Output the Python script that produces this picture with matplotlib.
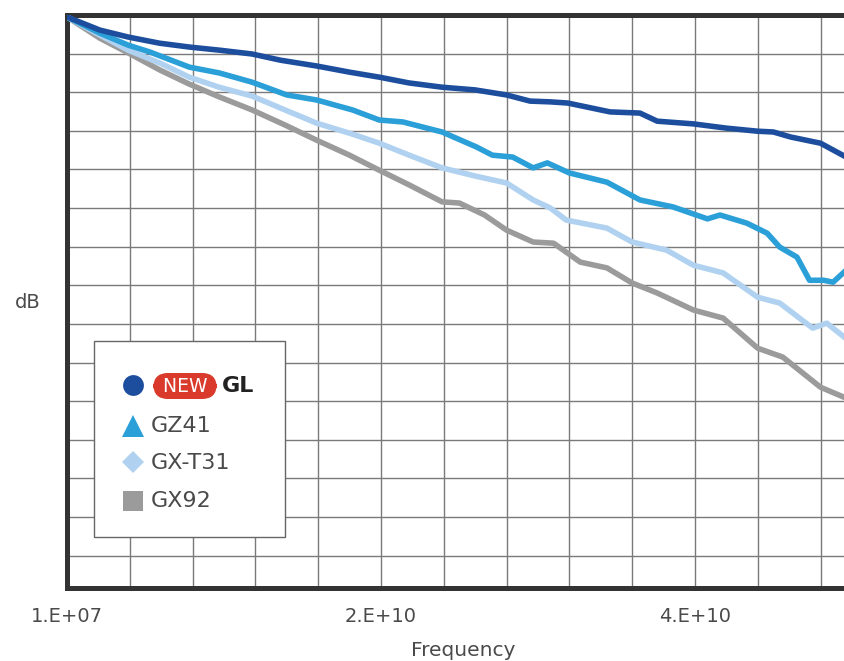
import matplotlib
matplotlib.use("Agg")
import matplotlib.pyplot as plt
import matplotlib.patches as pt
import numpy as np

plt.rcParams["font.family"] = "DejaVu Sans"

# frequency in GHz, loss in dB (1 grid row = 1 dB)
f_gl = [0.01, 2.1, 3.9, 5.9, 7.8, 9.7, 11.8, 13.6, 15.9, 18.0, 19.9, 21.8, 23.9, 26.0,
        28.0, 29.5, 30.8, 31.9, 34.6, 36.5, 37.6, 39.9, 42.0, 44.0, 45.0, 46.1, 48.0, 49.5]
db_gl = [-0.05, -0.39, -0.57, -0.73, -0.83, -0.91, -1.01, -1.17, -1.32, -1.48, -1.61, -1.76,
         -1.87, -1.94, -2.07, -2.23, -2.25, -2.28, -2.51, -2.54, -2.75, -2.82, -2.93, -3.01,
         -3.03, -3.16, -3.32, -3.65]

f_gz41 = [0.01, 2.1, 3.9, 5.3, 7.8, 9.7, 11.8, 14.0, 15.9, 18.2, 19.9, 21.4, 23.9, 26.1, 27.1,
          28.4, 29.7, 30.6, 32.0, 34.4, 36.5, 38.6, 40.8, 41.6, 43.3, 44.6, 45.4, 46.5, 47.3,
          48.2, 48.8, 49.5]
db_gz41 = [-0.05, -0.47, -0.78, -0.96, -1.35, -1.50, -1.74, -2.07, -2.20, -2.46, -2.72, -2.77,
           -3.03, -3.42, -3.63, -3.68, -3.96, -3.83, -4.09, -4.33, -4.79, -4.97, -5.28, -5.18,
           -5.39, -5.65, -6.01, -6.27, -6.87, -6.87, -6.92, -6.66]

f_gxt31 = [0.01, 2.1, 3.9, 5.9, 7.8, 9.7, 11.8, 13.9, 15.9, 18.0, 19.9, 21.8, 23.9, 26.0, 28.0,
           29.7, 30.8, 31.8, 34.4, 36.0, 38.2, 39.9, 41.8, 44.0, 45.4, 47.5, 48.4, 49.5]
db_gxt31 = [-0.05, -0.52, -0.91, -1.24, -1.61, -1.87, -2.10, -2.46, -2.80, -3.06, -3.32, -3.63,
            -3.96, -4.17, -4.35, -4.79, -5.00, -5.31, -5.52, -5.88, -6.09, -6.48, -6.68, -7.31,
            -7.46, -8.11, -7.98, -8.34]

f_gx92 = [0.01, 2.1, 3.9, 5.9, 7.8, 9.7, 11.8, 13.9, 15.9, 18.0, 19.9, 21.8, 23.9, 25.0, 26.6,
          28.0, 29.7, 31.0, 32.7, 34.4, 36.0, 37.6, 39.9, 41.8, 44.0, 45.6, 48.0, 49.5]
db_gx92 = [-0.05, -0.60, -0.98, -1.42, -1.79, -2.12, -2.46, -2.85, -3.24, -3.63, -4.02, -4.40,
           -4.84, -4.87, -5.18, -5.57, -5.88, -5.91, -6.40, -6.55, -6.94, -7.20, -7.64, -7.85,
           -8.63, -8.86, -9.64, -9.90]

tick_pos = [1e7, 2e10, 4e10]
tick_labels = ["1.E+07", "2.E+10", "4.E+10"]

C_GL = "#1d4e9e"
C_GZ = "#2a9fd8"
C_GXT = "#b0d2f0"
C_GX = "#9b9b9b"
TXT = "#4a4a4a"

W, H = 845, 661
fig = plt.figure(figsize=(W / 100, H / 100), dpi=100)
ax = fig.add_axes([67 / W, 1 - 588 / H, (W - 67) / W, (588 - 15) / H])

hz = lambda f: np.array(f) * 1e9
ax.plot(hz(f_gx92), db_gx92, color=C_GX, lw=4.0, solid_joinstyle="round", zorder=3)
ax.plot(hz(f_gxt31), db_gxt31, color=C_GXT, lw=4.0, solid_joinstyle="round", zorder=3)
ax.plot(hz(f_gz41), db_gz41, color=C_GZ, lw=4.0, solid_joinstyle="round", zorder=3)
ax.plot(hz(f_gl), db_gl, color=C_GL, lw=4.0, solid_joinstyle="round", zorder=3)

ax.set_xlim(1e7, 1e7 + 49.55e9)
ax.set_ylim(-14.84, 0)

# grid: one line every 4 GHz and every dB
for k in range(1, 13):
    ax.axvline(1e7 + k * 4e9, color="#7a7a7a", lw=1.0, zorder=1)
for k in range(1, 15):
    ax.axhline(-k, color="#7a7a7a", lw=1.0, zorder=1)

ax.set_xticks(tick_pos)
ax.set_xticklabels(tick_labels, fontsize=14, color=TXT)
ax.tick_params(axis="x", length=0, pad=14)
ax.set_yticks([])

for s in ["left", "top", "bottom"]:
    ax.spines[s].set_linewidth(3.6)
    ax.spines[s].set_color("#333333")
ax.spines["right"].set_visible(False)

fig.text(463 / W, 1 - 650 / H, "Frequency", ha="center", va="center", fontsize=14.5, color=TXT)
fig.text(28 / W, 1 - 302 / H, "dB", ha="center", va="center", fontsize=14, color=TXT)

# legend box drawn by hand (the NEW badge needs its own text)
fx = lambda x: x / W
fy = lambda y: 1 - y / H
fig.patches.append(pt.Rectangle((fx(94), fy(537)), (285 - 94) / W, (537 - 341) / H,
                                transform=fig.transFigure, fc="white", ec="#666666", lw=1.0, zorder=5))
mk = [("o", C_GL, 385, 15), ("^", C_GZ, 426, 16.5), ("D", C_GXT, 462, 11.5), ("s", C_GX, 501, 14)]
for m, c, y, s in mk:
    fig.lines.append(plt.Line2D([fx(133)], [fy(y)], marker=m, color=c, markersize=s,
                                markeredgewidth=0, transform=fig.transFigure, zorder=6))
fig.text(fx(185), fy(386), " NEW ", ha="center", va="center", fontsize=13.5, color="white",
         zorder=7,
         bbox=dict(boxstyle="round,pad=0.15,rounding_size=0.75", fc="#d93a2b", ec="#d93a2b"))
fig.text(fx(222), fy(386), "GL", ha="left", va="center", fontsize=16, color="#222222",
         fontweight="bold", zorder=7)
for lab, y in [("GZ41", 426), ("GX-T31", 463), ("GX92", 501)]:
    fig.text(fx(151), fy(y), lab, ha="left", va="center", fontsize=16, color=TXT, zorder=7)

fig.savefig("out.png", dpi=100)
